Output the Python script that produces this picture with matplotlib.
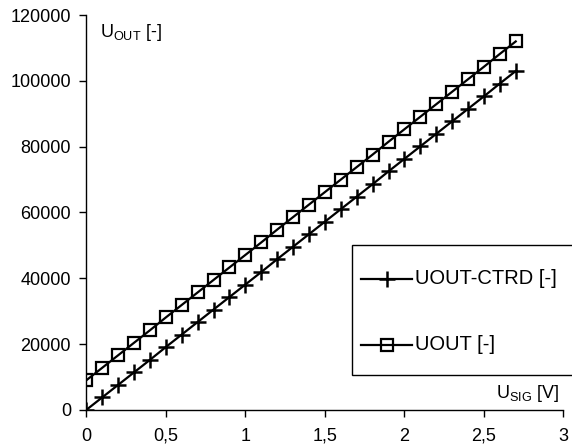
import matplotlib
matplotlib.use("Agg")
import matplotlib.pyplot as plt
from matplotlib.ticker import FuncFormatter
from matplotlib.patches import Rectangle
from matplotlib.lines import Line2D

plt.rcParams['font.family'] = ['Liberation Sans', 'DejaVu Sans']
plt.rcParams['mathtext.fontset'] = 'custom'
plt.rcParams['mathtext.rm'] = 'Liberation Sans'
plt.rcParams['mathtext.it'] = 'Liberation Sans'

u_sig = [0.0, 0.1, 0.2, 0.3, 0.4, 0.5, 0.6, 0.7, 0.8, 0.9, 1.0, 1.1, 1.2, 1.3,
         1.4, 1.5, 1.6, 1.7, 1.8, 1.9, 2.0, 2.1, 2.2, 2.3, 2.4, 2.5, 2.6, 2.7]
uout_ctrd = [0, 3800, 7600, 11400, 15200, 19100, 22900, 26700, 30500, 34300,
             38100, 41900, 45800, 49600, 53400, 57200, 61000, 64800, 68600,
             72500, 76300, 80100, 83900, 87700, 91500, 95300, 99200, 103000]
uout = [9000, 12800, 16600, 20400, 24200, 28100, 31900, 35700, 39500, 43300,
        47100, 50900, 54800, 58600, 62400, 66200, 70000, 73800, 77600,
        81500, 85300, 89100, 92900, 96700, 100500, 104300, 108200, 112000]
series_labels = ['UOUT-CTRD [-]', 'UOUT [-]']
x_ticks = [0, 0.5, 1, 1.5, 2, 2.5, 3]
y_ticks = [0, 20000, 40000, 60000, 80000, 100000, 120000]

W, H = 572, 445
fig = plt.figure(figsize=(W/100, H/100), dpi=100)
ax = fig.add_axes([0.151, 0.079, 0.834, 0.887])

fs_tick = 13
fs_leg = 14.5
style1 = dict(color='black', lw=1.6, marker='+', markersize=11, markeredgewidth=1.8)
style2 = dict(color='black', lw=1.6, marker='s', markersize=9.3,
              markeredgewidth=1.6, markerfacecolor='none')
ax.plot(u_sig, uout_ctrd, label=series_labels[0], **style1)
ax.plot(u_sig, uout, label=series_labels[1], **style2)

ax.set_xlim(0, 3)
ax.set_ylim(0, 120000)
ax.set_xticks(x_ticks)
ax.set_yticks(y_ticks)
ax.xaxis.set_major_formatter(FuncFormatter(lambda v, p: ('%g' % v).replace('.', ',')))
ax.yaxis.set_major_formatter(FuncFormatter(lambda v, p: '%d' % v))
for s in ['top', 'right']:
    ax.spines[s].set_visible(False)
for s in ['left', 'bottom']:
    ax.spines[s].set_linewidth(1.0)
ax.tick_params(direction='out', length=5, width=1, labelsize=fs_tick, pad=6)
ax.tick_params(axis='x', pad=8)

fig.text(100/W, 1-37/H, r'U$_{\mathrm{OUT}}$ [-]', fontsize=fs_tick,
         ha='left', va='baseline')
fig.text(559/W, 1-398/H, r'U$_{\mathrm{SIG}}$ [V]', fontsize=fs_tick,
         ha='right', va='baseline')

# legend drawn as a framed box
def fx(px):
    return px / W

def fy(py):
    return 1 - py / H

fig.patches.append(Rectangle((fx(352), fy(375)), fx(573) - fx(352), fy(245) - fy(375),
                             transform=fig.transFigure, facecolor='white',
                             edgecolor='black', lw=1.0, zorder=5))
for (ypx, style, lab) in [(279, style1, series_labels[0]), (345, style2, series_labels[1])]:
    fig.add_artist(Line2D([fx(361), fx(412)], [fy(ypx), fy(ypx)],
                          transform=fig.transFigure, color='black', lw=1.6, zorder=6))
    st = dict(style)
    st['lw'] = 0
    fig.add_artist(Line2D([fx(387)], [fy(ypx)], transform=fig.transFigure,
                          zorder=7, **st))
    fig.text(fx(415), fy(ypx), lab, fontsize=fs_leg, ha='left', va='center', zorder=8)

fig.savefig('out.png', dpi=100)
